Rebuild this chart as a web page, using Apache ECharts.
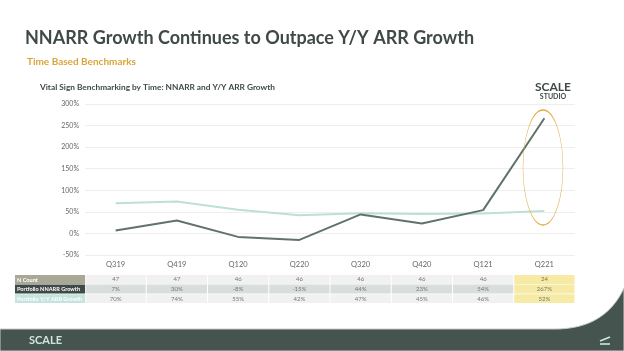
<!DOCTYPE html>
<html>
<head>
<meta charset="utf-8">
<script src="https://cdn.jsdelivr.net/npm/echarts@6/dist/echarts.min.js"></script>
<style>
  html, body { margin: 0; padding: 0; background: #fff; }
  #chart { width: 624px; height: 351px; }
</style>
</head>
<body>
<div id="chart"></div>
<script>
// data
var quarters = ["Q319", "Q419", "Q120", "Q220", "Q320", "Q420", "Q121", "Q221"];
var nCount = [47, 47, 46, 46, 46, 46, 46, 24];
var nnarrGrowth = [7, 30, -8, -15, 44, 23, 54, 267];
var arrGrowth = [70, 74, 55, 42, 47, 45, 46, 52];
var yTicks = { min: -50, max: 300, interval: 50 };

var rowNames = ["N Count", "Portfolio NNARR Growth", "Portfolio Y/Y ARR Growth"];
var rowLabels = [
  nCount.map(String),
  nnarrGrowth.map(function (v) { return v + "%"; }),
  arrGrowth.map(function (v) { return v + "%"; })
];

var FONT = "Lato, 'DejaVu Sans', sans-serif";
var gridLeft = 85, gridRight = 575, gridTop = 104, gridBottom = 255;
var colW = (gridRight - gridLeft) / quarters.length;
var rowTop = [275, 284.5, 294.2];
var rowH = 9.4;
var rowHeadBg = ["#a9a796", "#3f4a46", "#c4e4dd"];
var rowCellBg = ["#f1f1f1", "#d9dedc", "#f1f1f1"];
var labelMargins = [21.5, 31, 40.6];

var myChart = echarts.init(document.getElementById("chart"));

var graphics = [];
// table row backgrounds
rowTop.forEach(function (y, r) {
  graphics.push({
    type: "rect", shape: { x: 15, y: y, width: gridLeft - 15, height: rowH - 0.5 },
    style: { fill: rowHeadBg[r] }, z: -1
  });
  graphics.push({
    type: "text", x: 17, y: y + rowH / 2,
    style: { text: rowNames[r], fill: "#fff", font: "bold 5.6px " + FONT, verticalAlign: "middle" }, z: 2
  });
  for (var c = 0; c < quarters.length; c++) {
    graphics.push({
      type: "rect",
      shape: { x: gridLeft + c * colW + 0.5, y: y, width: colW - 1, height: rowH - 0.5 },
      style: { fill: c === quarters.length - 1 ? "#f6eaa4" : rowCellBg[r] }, z: -1
    });
  }
});

// footer band with curved corner (quadratic curve sampled into a polygon)
var footerPts = [[0, 329], [555, 329]];
for (var t = 0.05; t <= 1.0001; t += 0.05) {
  var u = 1 - t;
  footerPts.push([u * u * 555 + 2 * u * t * 605 + t * t * 624, u * u * 329 + 2 * u * t * 329 + t * t * 288]);
}
footerPts.push([624, 351], [0, 351]);
graphics.push({
  type: "polygon",
  shape: { points: footerPts },
  style: { fill: "#46544f", stroke: "#c9cccb", lineWidth: 1 }, z: 1
});
graphics.push({
  type: "text", x: 29, y: 340,
  style: { text: "SCALE", fill: "#cde7de", font: "bold 11px " + FONT, verticalAlign: "middle" }, z: 3
});
graphics.push({
  type: "line", shape: { x1: 600, y1: 344, x2: 610, y2: 344 },
  style: { stroke: "#cde7de", lineWidth: 1.6 }, z: 3
});
graphics.push({
  type: "line", shape: { x1: 600, y1: 341, x2: 610, y2: 337 },
  style: { stroke: "#cde7de", lineWidth: 1.6 }, z: 3
});
// logo top right
graphics.push({
  type: "text", x: 553, y: 87,
  style: { text: "SCALE", fill: "#3f4a46", font: "bold 12px " + FONT, align: "center", verticalAlign: "middle" }, z: 3
});
graphics.push({
  type: "text", x: 553, y: 96.5,
  style: { text: "STUDIO", fill: "#3f4a46", font: "bold 7px " + FONT, align: "center", verticalAlign: "middle" }, z: 3
});
// highlight ellipse around Q221 (circle squashed horizontally)
graphics.push({
  type: "circle",
  x: 543, y: 167.5,
  scaleX: 20 / 57.5,
  shape: { cx: 0, cy: 0, r: 57.5 },
  style: { fill: null, stroke: "#e2aa3c", lineWidth: 1.3, strokeNoScale: true }, z: 5
});

var tableAxes = rowLabels.map(function (labels, r) {
  return {
    type: "category",
    data: quarters,
    position: "bottom",
    z: 10,
    axisLine: { show: false },
    axisTick: { show: false },
    axisLabel: {
      interval: 0,
      margin: labelMargins[r],
      color: "#777",
      fontSize: 6,
      fontFamily: FONT,
      formatter: function (v, i) { return labels[i]; }
    }
  };
});

var option = {
  animation: false,
  title: [
    {
      text: "NNARR Growth Continues to Outpace Y/Y ARR Growth",
      left: 20, top: 24,
      textStyle: { color: "#3f4a46", fontSize: 18, fontWeight: "bold", fontFamily: FONT }
    },
    {
      text: "Time Based Benchmarks",
      left: 22, top: 52,
      textStyle: { color: "#d9a53b", fontSize: 10, fontWeight: "bold", fontFamily: FONT }
    },
    {
      text: "Vital Sign Benchmarking by Time: NNARR and Y/Y ARR Growth",
      left: 35, top: 78,
      textStyle: { color: "#3f4a46", fontSize: 8.3, fontWeight: "bold", fontFamily: FONT }
    }
  ],
  grid: { left: gridLeft, right: 624 - gridRight, top: gridTop, bottom: 351 - gridBottom, containLabel: false },
  xAxis: [
    {
      type: "category",
      data: quarters,
      axisLine: { show: false },
      axisTick: { show: false },
      axisLabel: { margin: 6, color: "#666", fontSize: 7.5, fontFamily: FONT }
    }
  ].concat(tableAxes),
  yAxis: {
    type: "value",
    min: yTicks.min, max: yTicks.max, interval: yTicks.interval,
    axisLine: { show: false },
    axisTick: { show: false },
    axisLabel: { color: "#666", fontSize: 7, fontFamily: FONT, margin: 6, formatter: "{value}%" },
    splitLine: { lineStyle: { color: "#eeeeee", width: 1 } }
  },
  series: [
    {
      name: "Portfolio Y/Y ARR Growth",
      type: "line",
      data: arrGrowth,
      symbol: "none",
      lineStyle: { color: "#bde0d6", width: 2 },
      z: 3
    },
    {
      name: "Portfolio NNARR Growth",
      type: "line",
      data: nnarrGrowth,
      symbol: "none",
      lineStyle: { color: "#617369", width: 2 },
      z: 4
    }
  ],
  graphic: graphics
};

myChart.setOption(option);
</script>
</body>
</html>
